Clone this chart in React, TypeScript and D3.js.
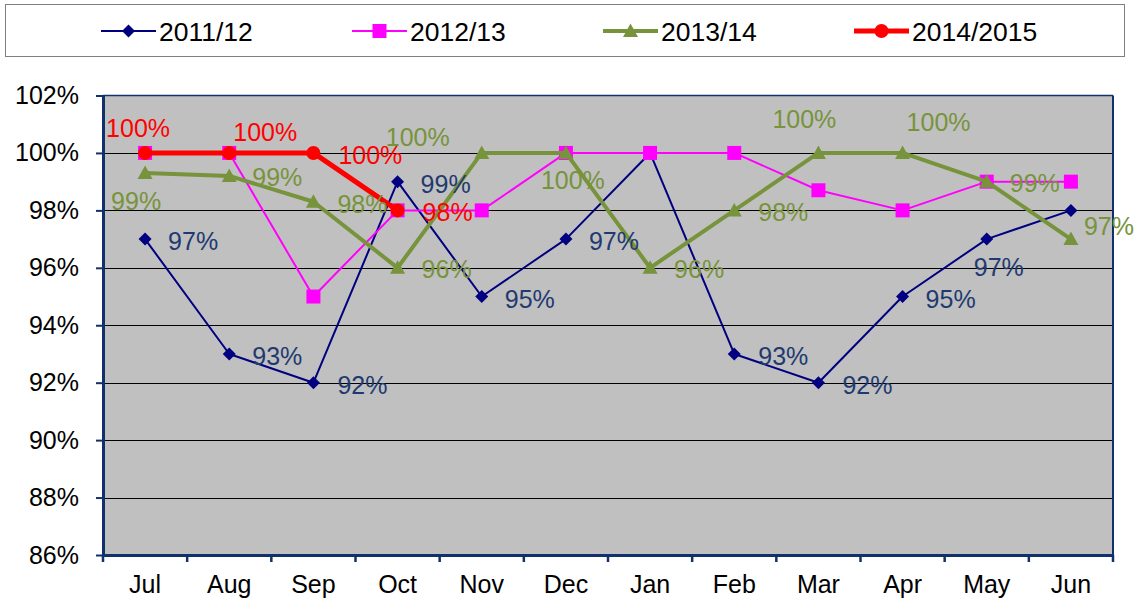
import React, { useEffect, useRef } from "react";
import * as d3 from "d3";

// chart data
const months = ["Jul", "Aug", "Sep", "Oct", "Nov", "Dec", "Jan", "Feb", "Mar", "Apr", "May", "Jun"];
const yTicks = [0.86, 0.88, 0.9, 0.92, 0.94, 0.96, 0.98, 1.0, 1.02];

const s2011 = [0.97, 0.93, 0.92, 0.99, 0.95, 0.97, 1.0, 0.93, 0.92, 0.95, 0.97, 0.98];
const s2012 = [1.0, 1.0, 0.95, 0.98, 0.98, 1.0, 1.0, 1.0, 0.987, 0.98, 0.99, 0.99];
const s2013 = [0.993, 0.992, 0.983, 0.96, 1.0, 1.0, 0.96, 0.98, 1.0, 1.0, 0.99, 0.97];
const s2014 = [1.0, 1.0, 1.0, 0.98];

const seriesNames = ["2011/12", "2012/13", "2013/14", "2014/2015"];

// label placement (left edge / vertical centre relative to the point), null = no label
const lbl2011 = [[23, 2], [23, 2], [24, 2], [23, 2], [23, 2], [23, 2], null, [24, 2], [24, 2], [23, 2], [-13, 28], null];
const lbl2013 = [[-34, 28], [23, 1], [24, 2], [24, 1], [-96, -16], [-25, 27], [24, 1], [24, 2], [-46, -34], [4, -31], [23, 1], [13, -13]];
const lbl2014 = [[-39, -25], [4, -21], [25, 2], [25, 2]];

const FONT = "'Liberation Sans', Arial, sans-serif";

export default function App() {
  const ref = useRef<SVGSVGElement>(null);

  useEffect(() => {
    const svg = d3.select(ref.current);
    svg.selectAll("*").remove();

    const left = 103, right = 1113, top = 95.5, bottom = 555;

    const x = d3.scaleBand().domain(months).range([left, right]);
    const y = d3.scaleLinear().domain([0.86, 1.02]).range([bottom, top]);
    const cx = (i) => x(months[i]) + x.bandwidth() / 2;

    // legend
    const leg = svg.append("g");
    leg.append("rect")
      .attr("x", 5.5).attr("y", 4.5).attr("width", 1119).attr("height", 52)
      .attr("fill", "#fff").attr("stroke", "#7f7f7f").attr("stroke-width", 1);

    const styles = [
      { color: "#000080", width: 2, marker: "diamond", size: 6.5 },
      { color: "#ff00ff", width: 2, marker: "square", size: 7 },
      { color: "#77933c", width: 4, marker: "triangle", size: 7.5 },
      { color: "#ff0000", width: 5, marker: "circle", size: 7 }
    ];

    const drawMarker = (g, kind, px, py, s, color) => {
      if (kind === "circle") {
        g.append("circle").attr("cx", px).attr("cy", py).attr("r", s).attr("fill", color);
      } else if (kind === "square") {
        g.append("rect").attr("x", px - s).attr("y", py - s).attr("width", 2 * s).attr("height", 2 * s).attr("fill", color);
      } else if (kind === "diamond") {
        g.append("path").attr("d", `M${px},${py - s}L${px + s},${py}L${px},${py + s}L${px - s},${py}Z`).attr("fill", color);
      } else {
        g.append("path").attr("d", `M${px},${py - s}L${px + s},${py + s * 0.8}L${px - s},${py + s * 0.8}Z`).attr("fill", color);
      }
    };

    const legX = [101, 352, 603, 854];
    seriesNames.forEach((name, i) => {
      const st = styles[i];
      leg.append("line")
        .attr("x1", legX[i]).attr("x2", legX[i] + 55).attr("y1", 31).attr("y2", 31)
        .attr("stroke", st.color).attr("stroke-width", st.width);
      drawMarker(leg, st.marker, legX[i] + 27.5, 31, st.size, st.color);
      leg.append("text")
        .attr("x", legX[i] + 58).attr("y", 31).attr("dy", "0.36em")
        .attr("font-family", FONT).attr("font-size", 26.5).attr("fill", "#000")
        .text(name);
    });

    // plot background
    svg.append("rect")
      .attr("x", left).attr("y", top).attr("width", right - left).attr("height", bottom - top)
      .attr("fill", "#c0c0c0");

    // gridlines
    svg.append("g")
      .selectAll("line")
      .data(yTicks.slice(1, -1))
      .enter()
      .append("line")
      .attr("x1", left).attr("x2", right)
      .attr("y1", (d) => Math.round(y(d)) + 0.5).attr("y2", (d) => Math.round(y(d)) + 0.5)
      .attr("stroke", "#000").attr("stroke-width", 1);

    const axisColor = "#12306e";
    // plot border top/right
    svg.append("line").attr("x1", left).attr("x2", right).attr("y1", top).attr("y2", top)
      .attr("stroke", axisColor).attr("stroke-width", 1.5);
    svg.append("line").attr("x1", right).attr("x2", right).attr("y1", top).attr("y2", bottom)
      .attr("stroke", axisColor).attr("stroke-width", 2);

    // y axis
    const yAxis = svg.append("g").attr("transform", `translate(${left},0)`)
      .call(d3.axisLeft(y).tickValues(yTicks).tickSize(7).tickSizeOuter(0).tickPadding(17)
        .tickFormat(d3.format(".0%")));
    yAxis.select(".domain").attr("stroke", axisColor).attr("stroke-width", 3);
    yAxis.selectAll(".tick line").attr("stroke", axisColor).attr("stroke-width", 2);
    yAxis.selectAll("text").attr("font-family", FONT).attr("font-size", 25).attr("fill", "#000");

    // x axis
    const xAxis = svg.append("g").attr("transform", `translate(0,${bottom})`)
      .call(d3.axisBottom(x).tickSize(0).tickPadding(20));
    xAxis.select(".domain").attr("stroke", axisColor).attr("stroke-width", 3);
    xAxis.selectAll("text").attr("font-family", FONT).attr("font-size", 25).attr("fill", "#000");
    xAxis.selectAll(".sep")
      .data(d3.range(months.length + 1))
      .enter()
      .append("line")
      .attr("x1", (i) => left + i * x.bandwidth()).attr("x2", (i) => left + i * x.bandwidth())
      .attr("y1", 0).attr("y2", 7)
      .attr("stroke", axisColor).attr("stroke-width", 2.5);

    // series
    const allSeries = [s2011, s2012, s2013, s2014];
    const line = d3.line<number>().x((d, i) => cx(i)).y((d) => y(d));
    allSeries.forEach((data, si) => {
      const st = styles[si];
      const g = svg.append("g");
      g.append("path").datum(data).attr("d", line)
        .attr("fill", "none").attr("stroke", st.color).attr("stroke-width", st.width)
        .attr("stroke-linejoin", "round");
      data.forEach((v, i) => drawMarker(g, st.marker, cx(i), y(v), st.size, st.color));
    });

    // data labels
    const labelSets = [
      { data: s2011, pos: lbl2011, color: "#1f3a70" },
      { data: s2013, pos: lbl2013, color: "#77933c" },
      { data: s2014, pos: lbl2014, color: "#ff0000" }
    ];
    labelSets.forEach((set) => {
      set.data.forEach((v, i) => {
        const p = set.pos[i];
        if (!p) return;
        svg.append("text")
          .attr("x", cx(i) + p[0]).attr("y", y(v) + p[1]).attr("dy", "0.36em")
          .attr("font-family", FONT).attr("font-size", 25).attr("fill", set.color)
          .text(d3.format(".0%")(Math.round(v * 100) / 100));
      });
    });
  }, []);

  return (
    <div style={{ position: "absolute", left: 0, top: 0 }}>
      <svg ref={ref} width={1141} height={603} style={{ display: "block", background: "#fff" }} />
    </div>
  );
}
